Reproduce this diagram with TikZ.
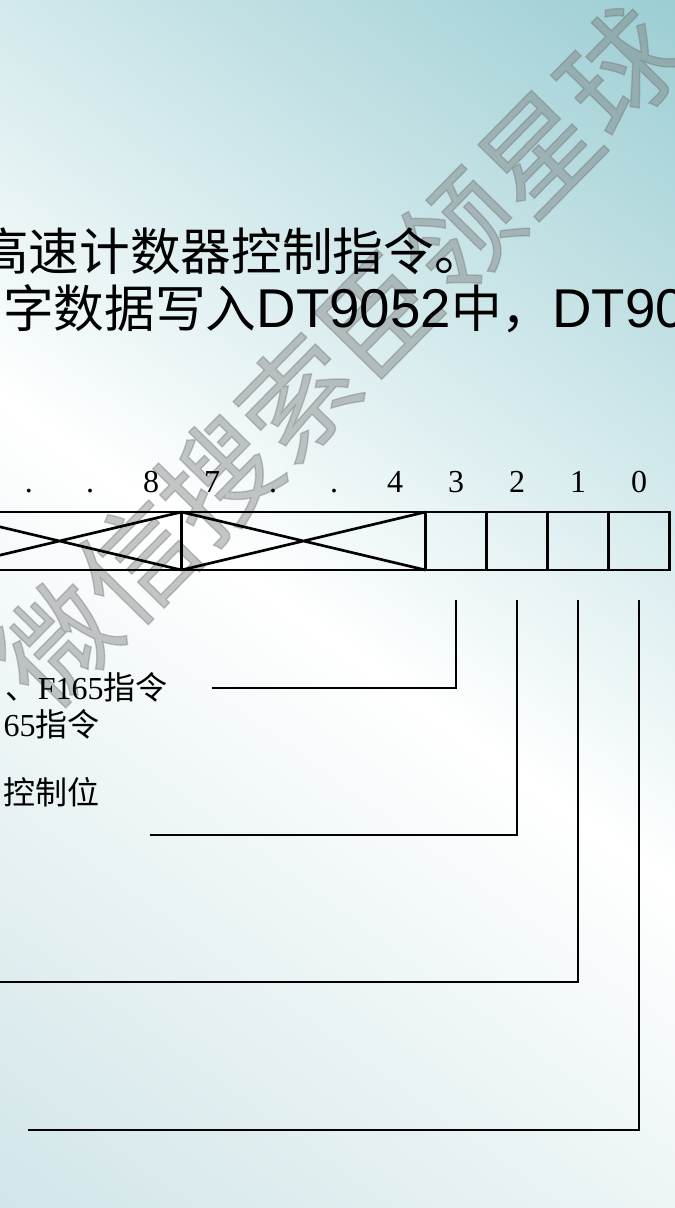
\documentclass[tikz,border=0pt]{standalone}
\usepackage{fontspec}
\setmainfont{Liberation Serif}
\newfontfamily\cjk{Noto Sans CJK SC}
\newfontfamily\markfont[FakeBold=1.2]{Noto Sans CJK SC}
\newfontfamily\arial{Liberation Sans}
\usetikzlibrary{positioning, calc}

\definecolor{bgteal}{RGB}{116,186,194}
\definecolor{bglight}{RGB}{186,216,221}
\definecolor{markgray}{RGB}{118,120,120}

\begin{document}
\begin{tikzpicture}[
    x=0.75pt, y=-0.75pt,
    cell/.style={draw, line width=2pt, minimum width=45.75pt, minimum height=43.5pt, inner sep=0pt, outer sep=0pt},
    field/.style={cell, minimum width=183pt},
    bitnum/.style={font=\fontsize{24}{24}\selectfont, inner sep=0pt, anchor=base},
    head/.style={font=\fontsize{38}{38}\selectfont, inner sep=0pt, anchor=base west},
    note/.style={font=\fontsize{24}{24}\selectfont, inner sep=0pt, anchor=base east},
    wire/.style={line width=2.2pt}
  ]
    % Background
    \useasboundingbox (0,0) rectangle (675,1208);
    \clip (0,0) rectangle (675,1208);
    \begin{scope}[transform canvas={rotate around={-36:(337,640)}}]
      \shade[top color=bgteal, bottom color=bglight, middle color=white] (-663,-360) rectangle (1337,1640);
    \end{scope}

    % Watermark
    \node[rotate=45.5, text=markgray, opacity=0.42, inner sep=0pt, font=\markfont\fontsize{86}{86}\selectfont] (mark) at (338,356) {微信搜索臣领星球};

    % Heading
    \node[head] (line1) at (-22,270) {\cjk 高速计数器控制指令。};
    \node[head] (line2) at (3,327) {{\cjk 字数据写入}{\arial\fontsize{41}{41}\selectfont DT9052}{\cjk 中，}{\arial\fontsize{41}{41}\selectfont DT90}};

    % Register
    \node[cell] (b0) at (639,541) {};
    \node[cell, left=0pt of b0] (b1) {};
    \node[cell, left=0pt of b1] (b2) {};
    \node[cell, left=0pt of b2] (b3) {};
    \node[field, left=0pt of b3] (f74) {};
    \node[field, left=0pt of f74] (f118) {};
    \draw[line width=2pt] (f74.north west) -- (f74.south east) (f74.south west) -- (f74.north east);
    \draw[line width=2pt] (f118.north west) -- (f118.south east) (f118.south west) -- (f118.north east);

    % Bit numbers
    \foreach \k/\t in {0/0, 1/1, 2/2, 3/3, 4/4, 5/., 6/., 7/7, 8/8, 9/., 10/.}
      \node[bitnum] (n\k) at ($(b0.north)+(-61*\k,-20)$) {\t};

    % Notes
    \node[note] (d3) at (168,699) {{\cjk 、}F165{\cjk 指令}};
    \node[note] (d3b) at (100,736) {65{\cjk 指令}};
    \node[note] (d2) at (100,804) {\cjk 控制位};

    % Wires
    \coordinate (t3) at ($(b3.south)+(0,30)$);
    \coordinate (t2) at ($(b2.south)+(0,30)$);
    \coordinate (t1) at ($(b1.south)+(0,30)$);
    \coordinate (t0) at ($(b0.south)+(0,30)$);
    \coordinate (e3) at (212,688);
    \coordinate (e2) at (150,835);
    \coordinate (e1) at (-10,982);
    \coordinate (e0) at (28,1130);
    \draw[wire] (t3) |- (e3);
    \draw[wire] (t2) |- (e2);
    \draw[wire] (t1) |- (e1);
    \draw[wire] (t0) |- (e0);
\end{tikzpicture}
\end{document}
